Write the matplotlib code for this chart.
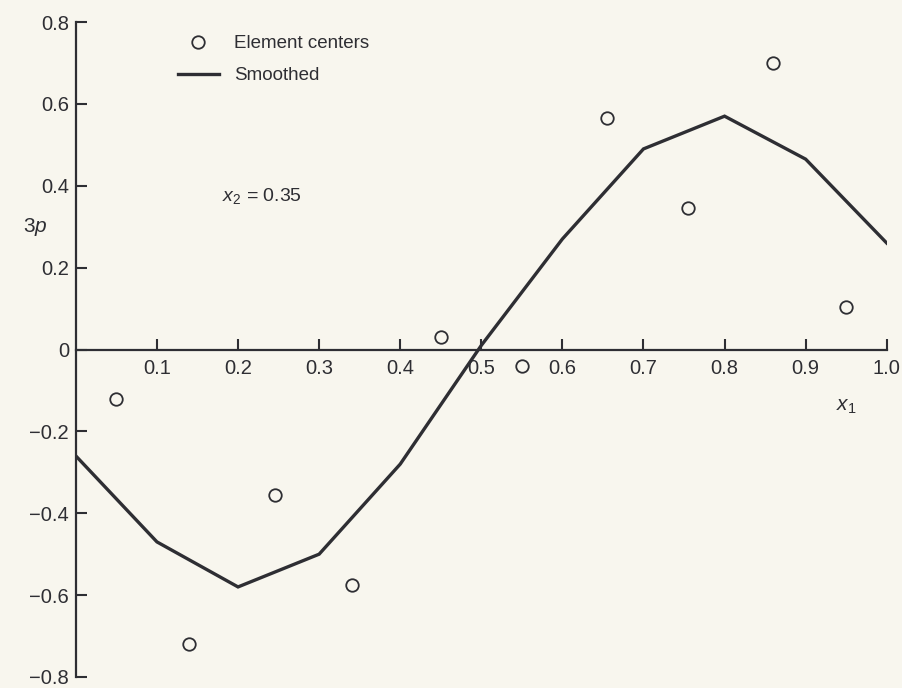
import matplotlib.pyplot as plt

plt.rcParams['font.family'] = ['Liberation Sans', 'DejaVu Sans']
plt.rcParams['mathtext.fontset'] = 'custom'
plt.rcParams['mathtext.it'] = 'Liberation Sans:italic'
plt.rcParams['mathtext.rm'] = 'Liberation Sans'

# element centre values
center_x = [0.05, 0.14, 0.245, 0.34, 0.45, 0.55, 0.655, 0.755, 0.86, 0.95]
center_p = [-0.12, -0.72, -0.355, -0.575, 0.03, -0.04, 0.565, 0.345, 0.70, 0.105]

# smoothed curve at the nodes
node_x = [0.0, 0.1, 0.2, 0.3, 0.4, 0.5, 0.6, 0.7, 0.8, 0.9, 1.0]
node_p = [-0.26, -0.47, -0.58, -0.50, -0.28, 0.01, 0.27, 0.49, 0.57, 0.465, 0.26]

x_ticks = [0.1, 0.2, 0.3, 0.4, 0.5, 0.6, 0.7, 0.8, 0.9, 1.0]
x_tick_labels = ['0.1', '0.2', '0.3', '0.4', '0.5', '0.6', '0.7', '0.8', '0.9', '1.0']
y_ticks = [-0.8, -0.6, -0.4, -0.2, 0, 0.2, 0.4, 0.6, 0.8]
y_tick_labels = ['\u22120.8', '\u22120.6', '\u22120.4', '\u22120.2', '0', '0.2', '0.4', '0.6', '0.8']

ink = '#2e2e33'
paper = '#f8f6ee'

fig = plt.figure(figsize=(9.03, 6.88), dpi=100, facecolor=paper)
ax = fig.add_axes([0.084, 0.016, 0.898, 0.952])
ax.set_facecolor(paper)

ax.plot(node_x, node_p, color=ink, lw=2.4, solid_joinstyle='miter', label='Smoothed', zorder=3)
ax.plot(center_x, center_p, ls='none', marker='o', ms=9, mfc='none', mec=ink, mew=1.3,
        label='Element centers', zorder=4)

ax.set_xlim(0, 1.0)
ax.set_ylim(-0.8, 0.8)

ax.spines['top'].set_visible(False)
ax.spines['right'].set_visible(False)
ax.spines['bottom'].set_position(('data', 0))
ax.spines['bottom'].set_bounds(0, 1.0)
for s in ['left', 'bottom']:
    ax.spines[s].set_color(ink)
    ax.spines[s].set_linewidth(1.6)

ax.set_xticks(x_ticks)
ax.set_xticklabels(x_tick_labels)
ax.set_yticks(y_ticks)
ax.set_yticklabels(y_tick_labels)
ax.tick_params(axis='x', direction='in', length=8, width=1.5, color=ink, pad=7,
               labelsize=14.5, labelcolor=ink)
ax.tick_params(axis='y', direction='in', length=8, width=1.5, color=ink, pad=5,
               labelsize=14.5, labelcolor=ink)

ax.text(-0.05, 0.3, '3$p$', fontsize=15, color=ink, ha='center', va='center', clip_on=False)
ax.text(0.95, -0.14, '$x_1$', fontsize=15, color=ink, ha='center', va='center')
ax.text(0.18, 0.375, '$x_2$ = 0.35', fontsize=14, color=ink, ha='left', va='center')

handles, labels = ax.get_legend_handles_labels()
leg = ax.legend(handles[::-1], labels[::-1], loc='upper left', bbox_to_anchor=(0.105, 1.006),
                frameon=False, fontsize=13.5, handlelength=2.2, handletextpad=0.8,
                labelspacing=0.8, labelcolor=ink)

fig.savefig('out.png', dpi=100, facecolor=paper)
